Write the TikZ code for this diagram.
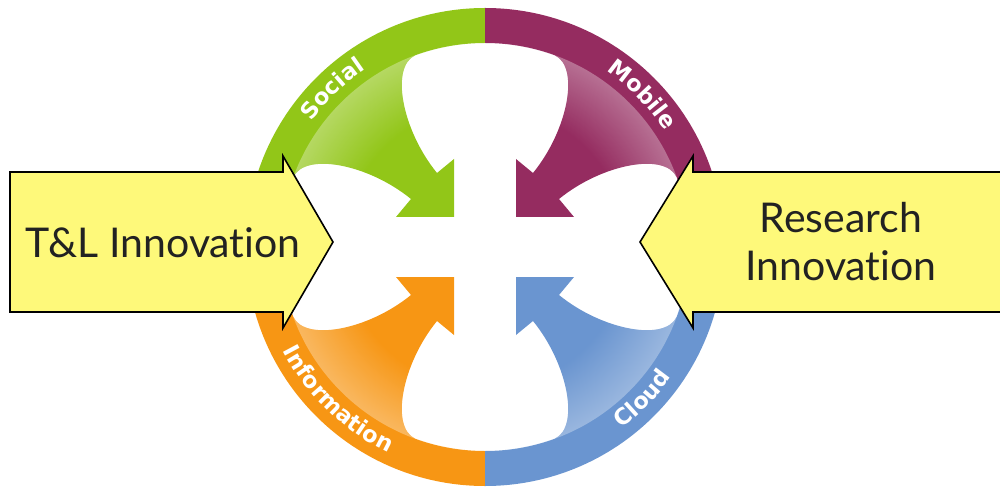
\documentclass[tikz,border=0pt]{standalone}
\usepackage{fontspec}
\newfontfamily\ringfont{DejaVu Sans}
\newfontfamily\boxfont{Lato}[Ligatures=NoCommon]
\usetikzlibrary{decorations.text}
\usetikzlibrary{fadings}
\definecolor{qgreen}{RGB}{146,198,24}
\definecolor{qpurple}{RGB}{149,44,96}
\definecolor{qorange}{RGB}{247,150,20}
\definecolor{qblue}{RGB}{106,149,208}
\definecolor{boxyellow}{RGB}{254,249,122}
\definecolor{boxtext}{RGB}{34,34,34}
\pgfdeclareradialshading{glowshade}{\pgfpointorigin}{color(0bp)=(black); color(140bp)=(black); color(203bp)=(black!68!white); color(206bp)=(black!68!white)}
\pgfdeclarefading{ringglow}{\pgfuseshading{glowshade}}
\tikzset{
	quadrant/.style={insert path={(-48,74) .. controls (-83,117) and (-95,180) .. (110:204)
			arc[start angle=110, end angle=90, radius=204] -- (90:239)
			arc[start angle=90, end angle=180, radius=239] -- (180:204)
			arc[start angle=180, end angle=160, radius=204]
			.. controls (-180,95) and (-117,83) .. (-74,48)
			-- (-89,30) -- (-31,30) -- (-31,88) -- cycle}},
	bigarrow/.style={
		fill=boxyellow,
		draw=black,
		line width=1.6pt},
	boxlabel/.style={
		text=boxtext,
		font=\boxfont\fontsize{41}{48}\selectfont,
		align=center},
	ringlabel/.style={
		decorate,
		decoration={text along path, text align=center, text color=white,
			text={|\ringfont\bfseries\fontsize{22.5}{24}\selectfont|#1}}}
}

\begin{document}
\begin{tikzpicture}[x=1pt, y=1pt]
	\useasboundingbox (-485,-240) rectangle (515,247);
	
	% the four quadrants of the wheel
	\foreach \sx/\sy/\col in {1/1/qgreen, -1/1/qpurple, 1/-1/qorange, -1/-1/qblue}{
		\begin{scope}[xscale=\sx, yscale=\sy]
			\fill[\col, quadrant];
			\begin{scope}
				\clip[quadrant];
				\fill[white, path fading=ringglow, fit fading=false] (0,0) circle (204);
			\end{scope}
		\end{scope}
	}
	
	\path[ringlabel=Social] (164:214) arc[start angle=164, end angle=104, radius=214];
	\path[ringlabel=Mobile] (74:214) arc[start angle=74, end angle=14, radius=214];
	\path[ringlabel=Information] (196:227) arc[start angle=196, end angle=256, radius=227];
	\path[ringlabel=Cloud] (-74:227) arc[start angle=-74, end angle=-14, radius=227];
	
	% yellow arrows
	\draw[bigarrow] (-475,-65) -- (-202,-65) -- (-202,-81) -- (-152,5) -- (-202,91) -- (-202,75) -- (-475,75) -- cycle;
	\draw[bigarrow] (520,75) -- (208,75) -- (208,91) -- (155,5) -- (208,-81) -- (208,-65) -- (520,-65);
	
	\node[boxlabel, anchor=base] (tl) at (-322,-10) {T\&L Innovation};
	\node[boxlabel] (research) at (356,5.5) {Research\\Innovation};
	
\end{tikzpicture}
\end{document}
